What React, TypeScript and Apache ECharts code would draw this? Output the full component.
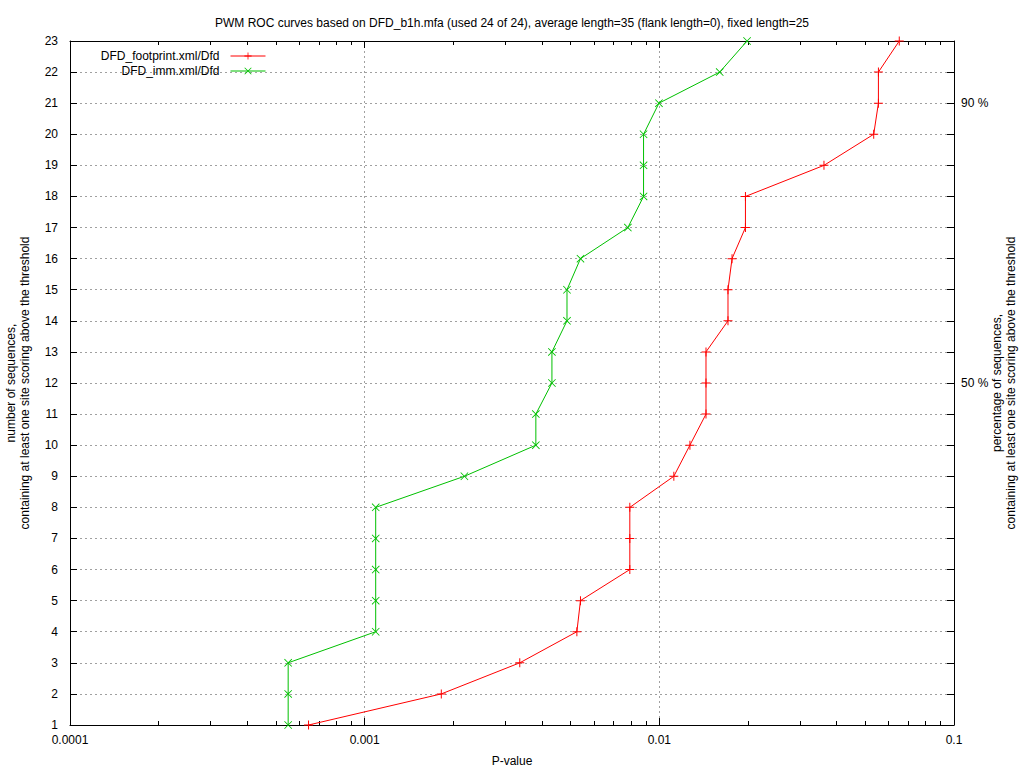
import React, { useEffect, useRef } from "react";
import * as echarts from "echarts";

const titleText =
  "PWM ROC curves based on DFD_b1h.mfa (used 24 of 24), average length=35 (flank length=0), fixed length=25";
const seriesNames = ["DFD_footprint.xml/Dfd", "DFD_imm.xml/Dfd"];
const counts = [1, 2, 3, 4, 5, 6, 7, 8, 9, 10, 11, 12, 13, 14, 15, 16, 17, 18, 19, 20, 21, 22, 23];
const footprintP = [
  0.000645, 0.00182, 0.00336, 0.00525, 0.0054, 0.00794, 0.00794, 0.00794, 0.0112, 0.0127, 0.0144,
  0.0144, 0.0144, 0.0171, 0.0171, 0.01765, 0.0196, 0.0196, 0.0362, 0.0534, 0.0554, 0.0554, 0.0652,
];
const immP = [
  0.00055, 0.00055, 0.00055, 0.00109, 0.00109, 0.00109, 0.00109, 0.00109, 0.00218, 0.00381, 0.00381,
  0.00432, 0.00432, 0.00486, 0.00486, 0.0054, 0.00782, 0.00884, 0.00884, 0.00884, 0.00997, 0.01603,
  0.01985,
];
const majorTicks = [0.0001, 0.001, 0.01, 0.1];
const minorMultipliers = [2, 3, 4, 5, 6, 7, 8, 9];
const rightLabels: Record<number, string> = { 21: "90 %", 12: "50 %" };
const leftName = "number of sequences,\ncontaining at least one site scoring above the threshold";
const rightName = "percentage of sequences,\ncontaining at least one site scoring above the threshold";
const xName = "P-value";

const FONT = "'Liberation Sans', Arial, sans-serif";
const PLUS = "path://M4.45,0H5.55V4.45H10V5.55H5.55V10H4.45V5.55H0V4.45H4.45Z";
const CROSS =
  "path://M0,0.75L0.75,0L5,4.25L9.25,0L10,0.75L5.75,5L10,9.25L9.25,10L5,5.75L0.75,10L0,9.25L4.25,5Z";

const minorTicks: number[] = [];
majorTicks.slice(0, 3).forEach((d) => minorMultipliers.forEach((m) => minorTicks.push(+(d * m).toPrecision(3))));

const fmtP = (v: number) => String(Number(v.toPrecision(3)));

export default function App() {
  const ref = useRef<HTMLDivElement>(null);
  useEffect(() => {
    if (!ref.current) return;
    const chart = echarts.init(ref.current, undefined, { renderer: "svg" });
    const blackLine = { show: true, lineStyle: { color: "#000", width: 1 } };
    const baseX = {
      type: "log" as const,
      logBase: 10,
      min: 0.0001,
      max: 0.1,
      gridIndex: 0,
    };
    const majorTickX = (pos: "top" | "bottom", labels: boolean, split: boolean) => ({
      ...baseX,
      position: pos,
      axisLine: blackLine,
      axisTick: { show: true, inside: true, length: 7, customValues: majorTicks, lineStyle: { color: "#000" } },
      axisLabel: labels
        ? {
            show: true,
            customValues: majorTicks,
            formatter: (v: number) => fmtP(v),
            color: "#000",
            fontFamily: FONT,
            fontSize: 12,
            margin: 9,
          }
        : { show: false },
      splitLine: split
        ? { show: true, lineStyle: { color: "#a0a0a0", type: [2, 3], width: 1 } }
        : { show: false },
      name: labels ? xName : "",
      nameLocation: "middle" as const,
      nameGap: 30,
      nameTextStyle: { color: "#000", fontFamily: FONT, fontSize: 12 },
    });
    const minorTickX = (pos: "top" | "bottom") => ({
      ...baseX,
      position: pos,
      axisLine: { show: false },
      axisTick: { show: true, inside: true, length: 4, customValues: minorTicks, lineStyle: { color: "#000" } },
      axisLabel: { show: false },
      splitLine: { show: false },
    });
    const legendBase = {
      right: 758,
      align: "right",
      orient: "vertical",
      itemWidth: 35,
      itemHeight: 9,
      padding: 0,
      lineStyle: { width: 1 },
      textStyle: { fontFamily: FONT, fontSize: 12, color: "#000", padding: [0, 6, 0, 0] },
    };

    const option: any = {
      animation: false,
      backgroundColor: "#fff",
      textStyle: { fontFamily: FONT },
      title: {
        text: titleText,
        left: "center",
        top: 12,
        textStyle: { fontFamily: FONT, fontSize: 12, fontWeight: "normal", color: "#000" },
      },
      legend: [
        { ...legendBase, data: [seriesNames[0]], top: 50 },
        { ...legendBase, data: [seriesNames[1]], top: 65 },
      ],
      grid: { left: 70, right: 70, top: 41, bottom: 43, containLabel: false, outerBoundsMode: "none" },
      xAxis: [majorTickX("bottom", true, true), minorTickX("bottom"), majorTickX("top", false, false), minorTickX("top")],
      yAxis: [
        {
          type: "value",
          min: 1,
          max: 23,
          interval: 1,
          position: "left",
          axisLine: blackLine,
          axisTick: { show: true, inside: true, length: 7, lineStyle: { color: "#000" } },
          axisLabel: { color: "#000", fontFamily: FONT, fontSize: 12, margin: 12 },
          splitLine: { show: true, lineStyle: { color: "#a0a0a0", type: [2, 3], width: 1 } },
          name: leftName,
          nameLocation: "middle",
          nameRotate: 90,
          nameGap: 38,
          nameTextStyle: { color: "#000", fontFamily: FONT, fontSize: 12, lineHeight: 14, align: "center" },
        },
        {
          type: "value",
          min: 1,
          max: 23,
          interval: 1,
          position: "right",
          axisLine: blackLine,
          axisTick: { show: true, inside: true, length: 7, lineStyle: { color: "#000" } },
          axisLabel: {
            color: "#000",
            fontFamily: FONT,
            fontSize: 12,
            margin: 7,
            formatter: (v: number) => rightLabels[v] || "",
          },
          splitLine: { show: false },
          name: rightName,
          nameLocation: "middle",
          nameRotate: 90,
          nameGap: 36,
          nameMoveOverlap: false,
          nameTextStyle: { color: "#000", fontFamily: FONT, fontSize: 12, lineHeight: 14, align: "center" },
        },
      ],
      series: [
        {
          name: seriesNames[0],
          type: "line",
          xAxisIndex: 0,
          yAxisIndex: 0,
          data: counts.map((c, i) => [footprintP[i], c]),
          symbol: PLUS,
          symbolSize: 9,
          showAllSymbol: true,
          lineStyle: { color: "#ff0000", width: 1 },
          itemStyle: { color: "#ff0000" },
          clip: false,
        },
        {
          name: seriesNames[1],
          type: "line",
          xAxisIndex: 0,
          yAxisIndex: 0,
          data: counts.map((c, i) => [immP[i], c]),
          symbol: CROSS,
          symbolSize: 8,
          showAllSymbol: true,
          lineStyle: { color: "#00c000", width: 1 },
          itemStyle: { color: "#00c000" },
          clip: false,
        },
      ],
    };
    chart.setOption(option);
    return () => chart.dispose();
  }, []);
  return <div ref={ref} style={{ width: 1024, height: 768, position: "absolute", left: 0, top: 0 }} />;
}
